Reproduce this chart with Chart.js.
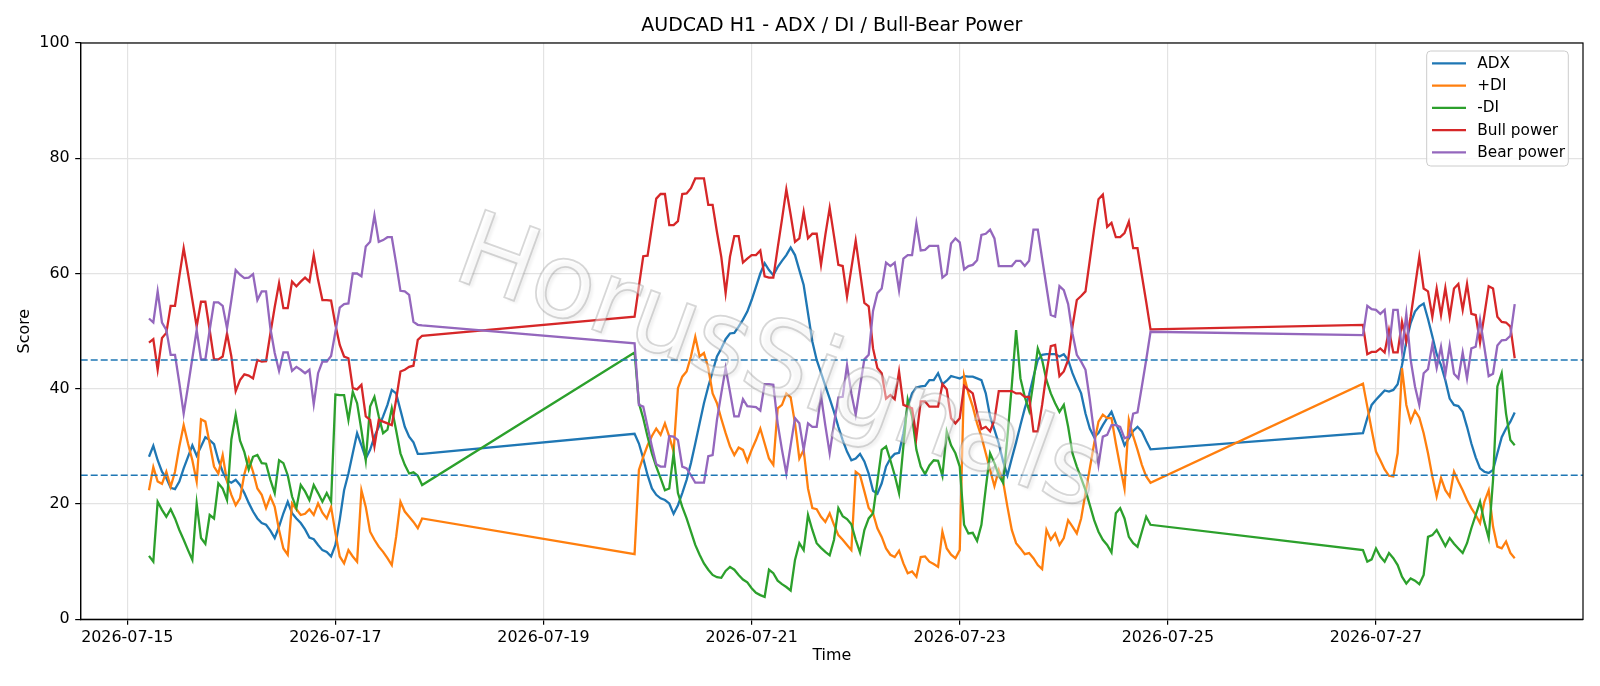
<!DOCTYPE html>
<html>
<head>
<meta charset="utf-8">
<script src="https://cdn.jsdelivr.net/npm/chart.js@4.4.1/dist/chart.umd.min.js"></script>
<style>
  html, body { margin: 0; padding: 0; background: #fff; }
  canvas { display: block; }
</style>
</head>
<body>
<canvas id="chart" width="1600" height="686"></canvas>
<script>
// hourly bars, three trading sessions (weekend gaps in between)
const sessions = [
  { start: '2026-07-15T05:00:00Z', bars: 64 },
  { start: '2026-07-19T21:00:00Z', bars: 120 },
  { start: '2026-07-26T21:00:00Z', bars: 36 }
];
const tickDates = ['2026-07-15', '2026-07-17', '2026-07-19', '2026-07-21', '2026-07-23', '2026-07-25', '2026-07-27'];
const yTicks = [0, 20, 40, 60, 80, 100];
const thresholds = [45, 25];

const adx = [
  28.2, 30.1, 27.6, 25.6, 24.5, 22.8, 22.6, 23.9, 26.2, 28.2, 30.2, 28.4, 30.0, 31.6, 31.1, 30.4,
  27.6, 25.6, 24.1, 23.7, 24.2, 23.3, 21.9, 20.2, 18.7, 17.5, 16.7, 16.4, 15.4, 14.1, 16.1, 18.4,
  20.4, 18.4, 17.5, 16.7, 15.6, 14.2, 13.9, 12.9, 12.0, 11.7, 10.9, 12.9, 17.3, 22.4, 25.3, 28.8,
  32.3, 30.2, 27.9, 29.4, 31.7, 33.4, 35.2, 37.2, 39.8, 39.2, 36.3, 33.4, 31.7, 30.7, 28.7, 28.7,
  32.2, 30.5, 27.9, 25.0, 22.7, 21.6, 21.0, 20.7, 20.1, 18.3, 19.8, 21.9, 24.2, 27.1, 30.5, 34.0,
  37.5, 40.4, 43.0, 45.6, 47.0, 48.6, 49.6, 49.7, 50.8, 52.0, 53.4, 55.4, 57.7, 60.0, 61.8, 60.6,
  59.7, 61.1, 62.2, 63.2, 64.5, 63.2, 60.6, 58.0, 53.1, 48.2, 45.0, 42.8, 40.5, 38.3, 36.0, 33.4,
  31.1, 29.1, 27.6, 27.9, 28.7, 27.4, 25.3, 22.3, 21.8, 23.6, 26.5, 27.9, 28.7, 28.9, 32.3, 36.9,
  39.2, 40.2, 40.4, 40.5, 41.5, 41.5, 42.7, 40.8, 41.4, 42.2, 42.0, 41.8, 42.2, 42.1, 42.1, 41.8,
  41.5, 39.2, 35.2, 32.9, 30.5, 27.4, 25.0, 27.9, 30.7, 33.7, 36.6, 39.0, 42.1, 45.0, 45.9, 46.0,
  46.0, 46.0, 45.6, 46.0, 45.0, 42.7, 40.9, 39.2, 35.7, 33.1, 31.6, 32.3, 33.7, 34.9, 36.0, 34.0,
  32.3, 30.2, 31.4, 32.7, 33.4, 32.6, 31.0, 29.5,
  32.3, 34.9, 37.2, 38.1, 38.9, 39.7, 39.5, 39.8, 40.8, 44.1, 48.2, 51.4, 53.4, 54.3, 54.8, 52.1,
  49.1, 46.0, 44.1, 41.5, 38.3, 37.2, 37.0, 36.0, 33.4, 30.5, 28.1, 26.2, 25.6, 25.4, 25.9, 28.8,
  31.6, 33.1, 34.3, 35.9
];
const plusDI = [
  22.4, 26.4, 23.9, 23.5, 25.6, 23.0, 25.6, 30.0, 33.7, 30.5, 27.6, 23.9, 34.7, 34.3, 30.5, 26.5,
  25.3, 28.5, 23.9, 21.6, 19.8, 21.0, 25.2, 27.9, 25.6, 22.7, 21.6, 19.3, 21.3, 19.5, 15.5, 12.3,
  11.2, 20.1, 19.1, 18.1, 18.3, 19.1, 18.1, 20.1, 18.5, 17.5, 19.5, 15.0, 10.9, 9.7, 12.0, 10.9,
  10.0, 22.4, 19.5, 15.2, 13.8, 12.6, 11.7, 10.6, 9.4, 14.3, 20.4, 18.7, 17.8, 16.9, 15.8, 17.5,
  11.3, 25.9, 28.2, 30.2, 31.8, 33.1, 32.0, 34.0, 31.7, 29.1, 40.1, 42.1, 43.0, 45.6, 49.0, 45.6,
  46.2, 43.6, 39.2, 37.5, 34.8, 32.3, 30.0, 28.5, 29.8, 29.4, 27.4, 29.4, 31.1, 33.1, 30.5, 27.9,
  26.8, 36.6, 37.2, 39.2, 38.5, 34.0, 27.9, 29.4, 22.7, 19.3, 19.1, 17.8, 16.9, 18.4, 16.4, 14.6,
  13.8, 12.9, 12.0, 25.6, 25.0, 22.2, 19.3, 18.4, 15.8, 14.3, 12.3, 11.2, 10.8, 11.9, 9.7, 8.0,
  8.3, 7.4, 10.8, 10.9, 10.0, 9.6, 9.1, 15.2, 12.3, 11.2, 10.6, 12.0, 42.2, 39.2, 36.9, 34.0,
  31.7, 28.8, 25.9, 23.1, 25.9, 23.9, 19.5, 15.5, 13.2, 12.3, 11.3, 11.5, 10.6, 9.4, 8.7, 15.5,
  13.8, 14.9, 12.9, 14.1, 17.2, 16.1, 14.9, 17.5, 21.9, 26.2, 30.5, 34.3, 35.5, 34.9, 34.9, 30.5,
  26.5, 22.7, 34.6, 31.8, 29.4, 26.8, 24.8, 23.7,
  40.9, 36.9, 32.9, 29.1, 27.6, 26.0, 24.9, 24.8, 28.8, 43.6, 37.2, 34.3, 36.2, 35.0, 32.3, 28.8,
  24.8, 21.3, 24.5, 22.4, 21.3, 25.6, 23.9, 22.4, 20.7, 19.3, 18.1, 16.7, 20.4, 22.4, 16.1, 12.6,
  12.3, 13.5, 11.5, 10.6
];
const minusDI = [
  11.0, 10.0, 20.4, 19.0, 17.8, 19.1, 17.5, 15.5, 13.8, 12.0, 10.3, 20.1, 14.1, 13.1, 18.1, 17.5,
  23.6, 22.7, 20.7, 31.2, 35.5, 31.0, 29.0, 26.0, 28.2, 28.5, 27.1, 27.0, 24.2, 21.9, 27.6, 27.1,
  25.0, 21.3, 19.3, 23.3, 22.2, 20.7, 23.3, 21.9, 20.4, 21.9, 20.4, 39.0, 38.9, 38.9, 34.6, 39.5,
  37.5, 32.8, 27.6, 36.9, 38.6, 35.2, 32.3, 32.9, 36.6, 32.8, 28.8, 26.8, 25.3, 25.5, 24.9, 23.3,
  46.3, 37.5, 34.9, 31.7, 28.8, 26.5, 24.5, 22.4, 22.7, 28.8, 21.9, 19.5, 17.5, 15.2, 12.9, 11.2,
  9.7, 8.6, 7.7, 7.3, 7.2, 8.4, 9.1, 8.6, 7.7, 6.9, 6.4, 5.4, 4.6, 4.2, 3.9, 8.6,
  8.0, 6.7, 6.1, 5.6, 5.0, 10.3, 13.2, 12.0, 18.1, 15.5, 13.2, 12.4, 11.7, 11.1, 13.8, 19.3,
  17.9, 17.4, 16.5, 13.8, 11.6, 15.5, 17.5, 18.4, 23.9, 29.4, 30.0, 27.6, 25.0, 21.9, 30.0, 38.1,
  35.2, 29.4, 26.5, 25.2, 26.7, 27.6, 27.5, 24.9, 32.6, 30.2, 28.8, 26.5, 16.4, 14.9, 15.0, 13.6,
  16.4, 22.7, 28.8, 27.1, 25.0, 23.7, 31.7, 40.5, 50.2, 41.8, 38.6, 36.2, 41.2, 47.0, 45.0, 41.5,
  39.2, 37.5, 36.0, 37.2, 33.4, 28.8, 26.5, 24.5, 22.4, 19.8, 17.2, 15.2, 13.8, 12.9, 11.6, 18.4,
  19.3, 17.5, 14.3, 13.2, 12.6, 15.2, 17.8, 16.4,
  12.0, 10.0, 10.4, 12.3, 10.9, 10.0, 11.5, 10.6, 9.4, 7.4, 6.2, 7.1, 6.7, 6.1, 7.7, 14.3,
  14.6, 15.5, 14.1, 12.7, 14.1, 13.1, 12.3, 11.5, 13.2, 15.8, 18.1, 20.4, 16.9, 14.1, 24.2, 40.4,
  42.7, 35.7, 31.1, 30.2
];
const bullPower = [
  48.0, 48.6, 43.3, 48.8, 49.7, 54.4, 54.4, 59.5, 64.4, 60.0, 55.4, 50.8, 55.1, 55.1, 50.2, 45.1,
  45.1, 45.6, 49.6, 45.6, 39.6, 41.5, 42.5, 42.3, 41.8, 45.0, 44.7, 44.8, 49.6, 54.2, 58.3, 54.0,
  54.0, 58.6, 57.8, 58.6, 59.3, 58.6, 63.2, 58.9, 55.4, 55.4, 55.3, 51.1, 47.6, 45.6, 45.3, 40.1,
  39.9, 40.7, 35.2, 34.6, 30.0, 34.6, 34.3, 34.0, 33.7, 38.1, 43.0, 43.3, 43.8, 44.0, 48.5, 49.2,
  52.5, 57.8, 63.0, 63.1, 68.1, 73.0, 73.8, 73.8, 68.4, 68.4, 69.1, 73.8, 73.9, 74.8, 76.5, 76.5,
  76.5, 71.9, 71.9, 67.2, 62.9, 56.6, 62.9, 66.5, 66.5, 61.9, 62.6, 63.2, 63.2, 64.0, 59.5, 59.3,
  59.3, 64.4, 69.4, 74.6, 70.2, 65.5, 66.1, 70.7, 66.1, 66.9, 66.9, 61.5, 66.7, 71.4, 66.5, 61.5,
  61.3, 56.0, 60.9, 65.7, 60.3, 54.9, 54.3, 47.0, 43.6, 42.7, 38.3, 38.9, 38.2, 43.0, 37.2, 36.9,
  36.6, 31.6, 37.8, 37.8, 36.9, 36.9, 36.9, 40.8, 39.9, 34.9, 34.0, 34.9, 40.5, 39.8, 39.2, 35.9,
  33.0, 33.4, 32.6, 34.6, 39.6, 39.6, 39.6, 39.6, 39.2, 39.2, 38.6, 38.6, 32.6, 32.6, 37.2, 42.7,
  47.4, 47.6, 42.2, 43.0, 45.0, 50.8, 55.4, 56.1, 56.9, 62.3, 67.8, 72.9, 73.7, 68.1, 68.8, 66.3,
  66.3, 67.0, 69.0, 64.4, 64.4, 59.7, 55.1, 50.3,
  51.1, 46.0, 46.4, 46.4, 47.0, 46.3, 50.2, 46.3, 46.3, 51.6, 48.2, 52.5, 57.7, 62.9, 57.4, 56.9,
  52.5, 57.4, 52.8, 57.5, 52.5, 57.4, 58.2, 53.7, 58.2, 53.0, 52.8, 48.0, 52.8, 57.8, 57.4, 52.5,
  51.6, 51.5, 50.8, 45.3
];
const bearPower = [
  52.2, 51.5, 56.9, 51.5, 50.2, 45.9, 45.9, 41.0, 35.7, 40.4, 45.3, 50.2, 45.1, 45.1, 50.2, 55.0,
  55.0, 54.4, 50.5, 55.4, 60.6, 59.8, 59.2, 59.3, 59.9, 55.4, 56.9, 56.9, 50.5, 46.2, 43.1, 46.3,
  46.3, 43.1, 43.8, 43.3, 42.7, 43.3, 37.3, 42.7, 44.7, 44.7, 45.7, 49.9, 54.1, 54.7, 54.8, 60.0,
  60.0, 59.5, 64.7, 65.5, 70.1, 65.5, 65.8, 66.3, 66.3, 61.8, 57.0, 56.9, 56.3, 51.6, 51.1, 51.0,
  47.9, 37.2, 36.9, 33.4, 30.0, 26.9, 26.5, 26.5, 31.8, 31.7, 31.1, 26.5, 26.2, 25.0, 23.7, 23.7,
  23.7, 28.3, 28.5, 34.6, 39.2, 43.6, 39.5, 35.2, 35.2, 38.2, 37.0, 36.9, 36.8, 36.2, 40.8, 40.8,
  40.7, 34.0, 29.4, 25.3, 30.2, 34.9, 34.0, 29.4, 34.0, 33.4, 33.4, 38.8, 33.6, 28.8, 34.0, 38.5,
  38.6, 44.1, 39.2, 35.5, 40.4, 45.1, 45.9, 53.5, 56.6, 57.4, 61.9, 61.3, 61.9, 57.1, 62.6, 63.2,
  63.2, 68.7, 64.0, 64.1, 64.8, 64.8, 64.8, 59.3, 59.9, 65.2, 66.1, 65.4, 60.7, 61.3, 61.5, 62.3,
  66.7, 66.9, 67.6, 66.1, 61.3, 61.3, 61.3, 61.3, 62.2, 62.2, 61.3, 62.2, 67.6, 67.6, 62.6, 57.7,
  52.8, 52.5, 57.8, 57.1, 54.7, 49.6, 45.9, 44.7, 43.3, 38.1, 32.3, 26.8, 31.7, 32.0, 33.7, 33.7,
  33.4, 31.4, 31.7, 35.7, 35.9, 40.4, 45.0, 49.9,
  49.3, 54.4, 53.8, 53.7, 53.0, 53.7, 47.0, 53.7, 53.7, 46.6, 53.0, 45.0, 40.4, 37.2, 42.7, 43.4,
  47.7, 43.6, 47.3, 42.5, 47.5, 42.6, 41.8, 46.3, 41.8, 47.0, 47.3, 52.0, 47.2, 42.2, 42.6, 47.5,
  48.4, 48.5, 49.2, 54.7
];

const seriesDefs = [
  { label: 'ADX', color: '#1f77b4', values: adx },
  { label: '+DI', color: '#ff7f0e', values: plusDI },
  { label: '-DI', color: '#2ca02c', values: minusDI },
  { label: 'Bull power', color: '#d62728', values: bullPower },
  { label: 'Bear power', color: '#9467bd', values: bearPower }
];

// x values: hours since 2026-07-15 00:00 UTC
const T0 = Date.UTC(2026, 6, 15);
const hours = [];
sessions.forEach(s => {
  const h0 = (Date.parse(s.start) - T0) / 3600000;
  for (let i = 0; i < s.bars; i++) hours.push(h0 + i);
});
const xTicks = tickDates.map(d => (Date.parse(d + 'T00:00:00Z') - T0) / 3600000);
const pad = (hours[hours.length - 1] - hours[0]) * 0.05;
const X_MIN = hours[0] - pad;
const X_MAX = hours[hours.length - 1] + pad;

const FONT = 'DejaVu Sans';
const FS = 15.9;

const datasets = seriesDefs.map((s, i) => ({
  label: s.label,
  data: s.values.map((v, j) => ({ x: hours[j], y: v })),
  borderColor: s.color,
  borderWidth: 2.3,
  pointRadius: 0,
  tension: 0,
  fill: false,
  order: 10 - i
}));
thresholds.forEach(t => {
  datasets.push({
    label: 'level ' + t,
    data: [{ x: X_MIN, y: t }, { x: X_MAX, y: t }],
    borderColor: '#1f77b4',
    borderWidth: 1.4,
    borderDash: [7, 3],
    pointRadius: 0,
    fill: false,
    order: 0
  });
});

const decorations = {
  id: 'decorations',
  afterDraw(chart) {
    const { ctx, chartArea: a } = chart;
    ctx.save();
    // watermark
    ctx.translate(778, 368);
    ctx.rotate(20 * Math.PI / 180);
    ctx.font = '104px "' + FONT + '"';
    ctx.textAlign = 'center';
    ctx.textBaseline = 'middle';
    ctx.shadowColor = 'rgba(0,0,0,0.12)';
    ctx.shadowBlur = 3;
    ctx.shadowOffsetX = 3;
    ctx.shadowOffsetY = 3;
    ctx.fillStyle = 'rgba(255,255,255,0.45)';
    ctx.fillText('HorusSignals', 0, 0);
    ctx.shadowColor = 'transparent';
    ctx.lineWidth = 1.8;
    ctx.strokeStyle = 'rgba(130,130,130,0.32)';
    ctx.strokeText('HorusSignals', 0, 0);
    ctx.restore();

    // axes frame
    ctx.save();
    ctx.strokeStyle = '#000';
    ctx.lineWidth = 1.2;
    ctx.strokeRect(a.left, a.top, a.right - a.left, a.bottom - a.top);
    ctx.restore();

    // title
    ctx.save();
    ctx.fillStyle = '#000';
    ctx.font = '19px "' + FONT + '"';
    ctx.textAlign = 'center';
    ctx.textBaseline = 'middle';
    ctx.fillText('AUDCAD H1 - ADX / DI / Bull-Bear Power', (a.left + a.right) / 2, 26);
    ctx.restore();

    // legend
    ctx.save();
    const lx = 1426.7, ly = 51, lw = 141.6, lh = 115;
    ctx.beginPath();
    ctx.roundRect(lx, ly, lw, lh, 4);
    ctx.fillStyle = 'rgba(255,255,255,0.8)';
    ctx.fill();
    ctx.strokeStyle = '#cccccc';
    ctx.lineWidth = 1;
    ctx.stroke();
    ctx.font = '15.3px "' + FONT + '"';
    ctx.textBaseline = 'middle';
    seriesDefs.forEach((s, i) => {
      const y = 63.3 + i * 22.25;
      ctx.beginPath();
      ctx.moveTo(1432, y);
      ctx.lineTo(1466, y);
      ctx.strokeStyle = s.color;
      ctx.lineWidth = 2.3;
      ctx.stroke();
      ctx.fillStyle = '#000';
      ctx.fillText(s.label, 1477.3, y + 0.5);
    });
    ctx.restore();
  }
};

new Chart(document.getElementById('chart').getContext('2d'), {
  type: 'line',
  data: { datasets },
  options: {
    responsive: false,
    animation: false,
    layout: { padding: { left: 0, right: 17, top: 43, bottom: 0 } },
    plugins: {
      legend: { display: false },
      title: { display: false },
      tooltip: { enabled: false }
    },
    scales: {
      x: {
        type: 'linear',
        min: X_MIN,
        max: X_MAX,
        afterBuildTicks: s => { s.ticks = xTicks.map(v => ({ value: v })); },
        afterFit: s => { s.height = 66.7; },
        ticks: {
          autoSkip: false,
          maxRotation: 0,
          padding: 4,
          color: '#000',
          font: { family: FONT, size: FS },
          callback: v => new Date(T0 + v * 3600000).toISOString().slice(0, 10)
        },
        grid: { color: '#e3e3e3', lineWidth: 1.2, tickColor: '#000', tickLength: 5.5 },
        border: { color: '#000', width: 1.2 },
        title: { display: true, text: 'Time', color: '#000', font: { family: FONT, size: FS }, padding: { top: 0, bottom: 20.4 } }
      },
      y: {
        min: 0,
        max: 100,
        afterBuildTicks: s => { s.ticks = yTicks.map(v => ({ value: v })); },
        afterFit: s => { s.width = 80.7; },
        ticks: { padding: 5.5, color: '#000', font: { family: FONT, size: FS } },
        grid: { color: '#e3e3e3', lineWidth: 1.2, tickColor: '#000', tickLength: 5.5 },
        border: { color: '#000', width: 1.2 },
        title: { display: true, text: 'Score', color: '#000', font: { family: FONT, size: FS }, padding: { top: 15, bottom: 0 } }
      }
    }
  },
  plugins: [decorations]
});
</script>
</body>
</html>
